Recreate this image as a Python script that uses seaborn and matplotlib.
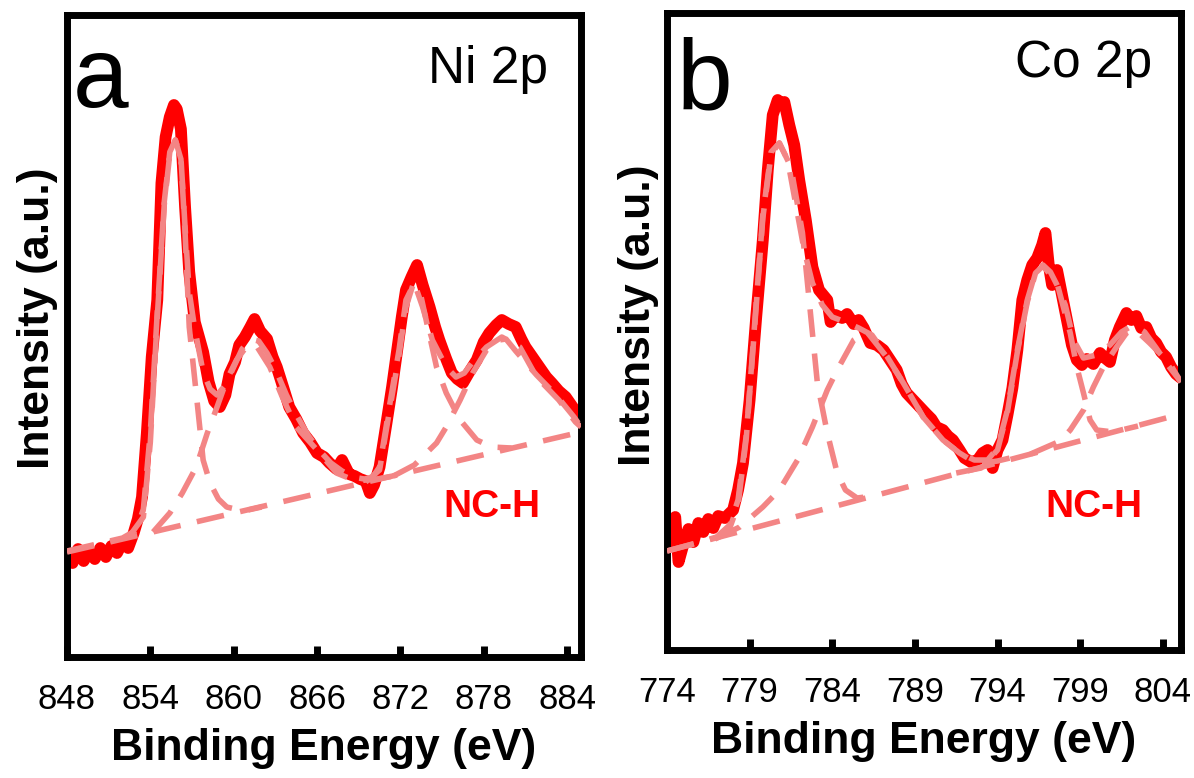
import seaborn as sns
import matplotlib.pyplot as plt

ni_energy = [848.0, 848.4, 848.8, 849.2, 849.6, 850.0, 850.4, 850.8, 851.2, 851.6,
             852.0, 852.4, 852.8, 853.1, 853.4, 853.75, 854.1, 854.5, 854.8, 855.1,
             855.4, 855.7, 855.9, 856.2, 856.5, 856.8, 857.2, 857.8, 858.2, 858.6,
             859.0, 859.4, 859.7, 860.1, 860.4, 860.8, 861.2, 861.5, 861.9, 862.4,
             862.8, 863.1, 863.6, 864.0, 864.5, 865.0, 865.5, 866.0, 866.5, 866.9,
             867.4, 867.8, 868.3, 868.7, 869.1, 869.5, 869.8, 870.1, 870.5, 871.0,
             871.4, 871.7, 872.1, 872.4, 872.8, 873.2, 873.6, 874.1, 874.5, 874.8,
             875.3, 875.7, 876.1, 876.5, 877.0, 877.5, 878.0, 878.4, 878.9, 879.3,
             879.8, 880.3, 880.7, 881.0, 881.5, 882.0, 882.5, 882.9, 883.4, 883.9,
             884.3, 884.6, 884.95]
ni_counts = [104, 94, 108, 96, 106, 98, 109, 100, 111, 104,
             115, 109, 124, 138, 160, 224, 300, 357, 474, 520,
             540, 552, 548, 528, 450, 385, 335, 305, 275, 256,
             250, 262, 283, 295, 312, 320, 330, 338, 326, 318,
             300, 290, 268, 250, 238, 224, 215, 204, 200, 194,
             188, 197, 183, 181, 178, 176, 164, 172, 190, 234,
             270, 300, 340, 367, 380, 392, 372, 350, 330, 317,
             298, 284, 278, 274, 286, 297, 315, 324, 332, 337,
             333, 330, 318, 310, 300, 290, 280, 274, 266, 260,
             252, 246, 240]

# fitted envelope
ni_fit_energy = [848, 852, 853, 853.5, 854, 854.5, 855, 855.4, 855.8, 856.2,
                 856.5, 856.8, 857.2, 857.8, 858.3, 858.8, 859.4, 860.0, 860.6, 861.2,
                 861.8, 862.4, 863.0, 863.8, 864.6, 865.4, 866.2, 867.0, 867.8, 868.6,
                 869.4, 870.0, 870.5, 871.2, 871.9, 872.4, 873.0, 873.6, 874.3, 875.3,
                 876.0, 876.6, 877.2, 878.2, 879.3, 880.6, 881.8, 883.4, 884.6, 885]
ni_fit = [106, 119, 127, 148, 225, 345, 455, 505, 517, 500,
          430, 365, 328, 285, 268, 262, 272, 290, 308, 318,
          316, 304, 288, 262, 240, 221, 206, 194, 186, 180,
          178, 180, 190, 250, 307, 357, 374, 350, 317, 290,
          280, 284, 295, 310, 320, 310, 280, 257, 235, 230]

# background and fitted components
ni_bg_energy = [848, 885]
ni_bg = [105, 225]
ni_p32_energy = [852.5, 853.5, 854.0, 854.5, 855.0, 855.4, 855.8, 856.2, 856.5, 856.8,
                 857.3, 857.6, 857.8, 858.3, 858.9, 859.5, 860.7, 862.0]
ni_p32 = [121, 140, 215, 340, 452, 503, 517, 498, 425, 330,
          264, 224, 197, 174, 158, 150, 146, 150]
ni_sat1_energy = [854.2, 855.4, 856.3, 857.3, 858.1, 858.8, 859.5, 860.2, 860.9, 861.6,
                  862.6, 863.5, 864.5, 866.0, 867.4, 868.8, 870.3, 871.5]
ni_sat1 = [125, 144, 164, 190, 224, 250, 277, 297, 310, 312,
           290, 260, 230, 207, 184, 176, 178, 181]
ni_p12_energy = [869.5, 870.5, 871.2, 871.9, 872.4, 872.9, 873.4, 873.9, 874.6, 875.3,
                 876.3, 877.5, 878.6, 880.0]
ni_p12 = [175, 187, 245, 302, 350, 372, 366, 334, 290, 264,
          237, 217, 210, 209]
ni_sat2_energy = [871.5, 873.0, 874.6, 875.3, 876.3, 877.2, 878.2, 879.1, 879.6, 880.3,
                  881.8, 883.2, 884.5, 885]
ni_sat2 = [181, 192, 214, 230, 257, 284, 307, 317, 318, 306,
           282, 262, 240, 230]

# ---- panel b : Co 2p ----
co_energy = [774.0, 774.3, 774.5, 774.7, 775.0, 775.3, 775.6, 775.9, 776.2, 776.5,
             776.8, 777.1, 777.5, 778.0, 778.3, 778.6, 779.0, 779.4, 779.8, 780.1,
             780.4, 780.7, 780.9, 781.1, 781.4, 781.7, 782.0, 782.4, 782.8, 783.2,
             783.7, 783.9, 784.2, 784.6, 784.9, 785.3, 785.6, 785.9, 786.3, 786.7,
             787.1, 787.5, 787.9, 788.2, 788.5, 788.9, 789.3, 789.7, 790.0, 790.3,
             790.7, 791.0, 791.3, 791.7, 792.0, 792.4, 792.8, 793.1, 793.4, 793.7,
             794.0, 794.3, 794.6, 794.9, 795.2, 795.5, 795.8, 796.1, 796.4, 796.7,
             796.9, 797.1, 797.3, 797.6, 797.9, 798.2, 798.5, 798.8, 799.1, 799.4,
             799.8, 800.2, 800.5, 800.8, 801.1, 801.4, 801.8, 802.1, 802.4, 802.7,
             803.0, 803.3, 803.6, 803.9, 804.2, 804.5, 804.8, 805.1]
co_counts = [103, 118, 133, 88, 106, 121, 108, 127, 118, 131,
             122, 134, 132, 140, 160, 187, 250, 333, 410, 480,
             535, 550, 545, 548, 525, 505, 470, 430, 383, 360,
             350, 328, 335, 332, 336, 326, 330, 322, 307, 305,
             300, 290, 280, 266, 257, 250, 243, 236, 231, 223,
             220, 214, 210, 200, 192, 188, 190, 197, 200, 182,
             200, 210, 235, 262, 300, 350, 370, 385, 392, 405,
             417, 385, 365, 380, 355, 330, 305, 290, 285, 291,
             286, 297, 292, 288, 310, 323, 337, 330, 334, 322,
             323, 312, 307, 298, 293, 283, 276, 272]

co_fit_energy = [774, 776, 777, 777.8, 778.3, 778.8, 779.3, 779.8, 780.3, 780.8,
                 781.3, 781.8, 782.3, 782.8, 783.4, 784.0, 784.8, 785.6, 786.4, 787.3,
                 788.3, 789.5, 790.7, 791.7, 792.6, 793.4, 794.0, 794.6, 795.2, 795.8,
                 796.3, 796.75, 797.2, 797.6, 798.1, 798.6, 799.2, 800.0, 800.8, 801.5,
                 802.2, 802.9, 803.6, 804.3, 805.1]
co_fit = [99, 108, 113, 125, 150, 215, 325, 435, 498, 507,
          490, 445, 400, 367, 345, 333, 328, 322, 315, 294,
          267, 233, 210, 197, 190, 190, 202, 240, 300, 350,
          378, 385, 378, 365, 345, 310, 292, 295, 305, 318,
          325, 318, 302, 285, 268]

co_bg_energy = [774, 805.1]
co_bg = [99, 236]
co_p32_energy = [777.0, 777.8, 778.3, 778.8, 779.3, 779.8, 780.3, 780.8, 781.5, 782.2,
                 782.5, 782.8, 783.1, 783.7, 784.3, 784.8, 785.5, 786.5]
co_p32 = [112, 122, 145, 212, 322, 432, 496, 507, 483, 417,
          367, 317, 267, 217, 177, 160, 152, 154]
co_sat1_energy = [776.9, 778.4, 779.8, 780.8, 781.9, 782.8, 783.7, 784.3, 785.3, 786.1,
                  787.3, 788.3, 789.5, 790.7, 791.7, 792.8, 794.0, 795.5]
co_sat1 = [111, 123, 143, 160, 190, 223, 260, 280, 310, 318,
           293, 267, 233, 210, 197, 186, 189, 195]
co_p12_energy = [791.5, 793.0, 794.0, 794.6, 795.2, 795.8, 796.3, 796.75, 797.6, 798.4,
                 798.8, 799.2, 799.6, 800.0, 801.0, 802.5]
co_p12 = [177, 182, 200, 238, 298, 348, 377, 384, 367, 317,
          283, 257, 230, 220, 218, 224]
co_sat2_energy = [796.0, 797.8, 798.4, 799.2, 799.8, 800.4, 801.2, 801.8, 802.3, 803.2,
                  804.4, 805.1]
co_sat2 = [196, 209, 220, 240, 263, 283, 303, 317, 321, 307,
           287, 268]

sns.set_style("white")
plt.rcParams['font.family'] = ['Liberation Sans', 'DejaVu Sans']
plt.rcParams['text.color'] = 'black'
plt.rcParams['axes.labelcolor'] = 'black'
plt.rcParams['xtick.color'] = 'black'

RED = '#ff0000'
PINK = '#f38585'
DASH = (0, (5, 3))


def draw_panel(ax, energy, counts, fit_e, fit, bg_e, bg, comps, xlim, ylim, ticks,
               letter, letter_xy, element, element_xy, tag_xy, ylab_xy):
    sns.lineplot(x=energy, y=counts, ax=ax, color=RED, lw=8.5, sort=False,
                 estimator=None, solid_joinstyle='round', solid_capstyle='round', zorder=2)
    for ce, ci in comps:
        sns.lineplot(x=ce, y=ci, ax=ax, color=PINK, lw=4, linestyle=DASH,
                     sort=False, estimator=None, zorder=3)
    sns.lineplot(x=bg_e, y=bg, ax=ax, color=PINK, lw=4, linestyle=DASH,
                 sort=False, estimator=None, zorder=3)
    sns.lineplot(x=fit_e, y=fit, ax=ax, color=PINK, lw=4, linestyle=DASH,
                 sort=False, estimator=None, zorder=4)

    ax.set_xlim(*xlim)
    ax.set_ylim(*ylim)
    ax.set_xticks(ticks)
    ax.set_yticks([])
    ax.tick_params(axis='x', direction='in', length=8, width=5, labelsize=25,
                   pad=19, bottom=True, top=False, colors='black')
    for s in ax.spines.values():
        s.set_visible(True)
        s.set_linewidth(5)
        s.set_color('black')

    ax.set_xlabel('Binding Energy (eV)', fontsize=32, fontweight='bold', labelpad=8)
    ax.set_ylabel('Intensity (a.u.)', fontsize=32, fontweight='bold')
    ax.yaxis.set_label_coords(*ylab_xy)

    ax.text(letter_xy[0], letter_xy[1], letter, transform=ax.transAxes,
            fontsize=72, ha='left', va='baseline')
    ax.text(element_xy[0], element_xy[1], element, transform=ax.transAxes,
            fontsize=37, ha='right', va='baseline')
    ax.text(tag_xy[0], tag_xy[1], 'NC-H', transform=ax.transAxes, color=RED,
            fontsize=28, fontweight='bold', ha='center', va='baseline')


fig = plt.figure(figsize=(11.94, 7.78), dpi=100)
ax_a = fig.add_axes([0.0561, 0.1555, 0.4305, 0.8252])
ax_b = fig.add_axes([0.5586, 0.1645, 0.4305, 0.8188])

draw_panel(ax_a, ni_energy, ni_counts, ni_fit_energy, ni_fit, ni_bg_energy, ni_bg,
           [(ni_p32_energy, ni_p32), (ni_sat1_energy, ni_sat1),
            (ni_p12_energy, ni_p12), (ni_sat2_energy, ni_sat2)],
           (848, 885), (0, 642), [848, 854, 860, 866, 872, 878, 884],
           'a', (0.012, 0.857), 'Ni 2p', (0.936, 0.894), (0.827, 0.218),
           (-0.018, 0.528))

draw_panel(ax_b, co_energy, co_counts, co_fit_energy, co_fit, co_bg_energy, co_bg,
           [(co_p32_energy, co_p32), (co_sat1_energy, co_sat1),
            (co_p12_energy, co_p12), (co_sat2_energy, co_sat2)],
           (774, 805.1), (0, 637), [774, 779, 784, 789, 794, 799, 804],
           'b', (0.018, 0.848), 'Co 2p', (0.944, 0.900), (0.831, 0.209),
           (-0.016, 0.526))

fig.savefig('out.png', dpi=100)
